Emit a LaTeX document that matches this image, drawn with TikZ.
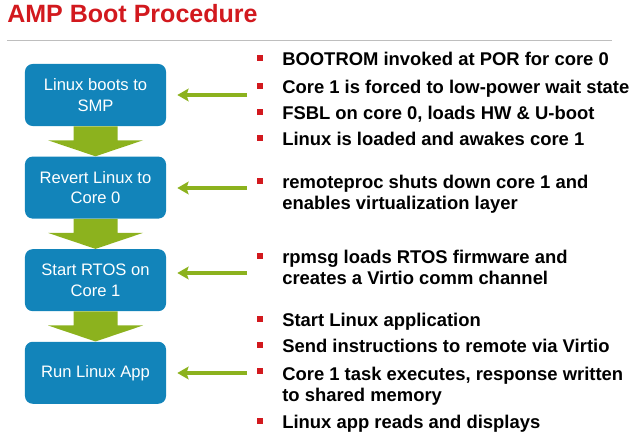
\documentclass[tikz,border=0pt]{standalone}
\usepackage{fontspec}
\setmainfont{Liberation Sans}
\usetikzlibrary{arrows.meta,positioning,calc}
\definecolor{TitleRed}{RGB}{210,25,30}
\definecolor{BoxBlue}{RGB}{18,132,186}
\definecolor{FlowGreen}{RGB}{140,178,30}
\definecolor{RuleGray}{RGB}{190,190,190}
\tikzset{
  stage/.style={draw=none,rounded corners=5.5pt,fill=BoxBlue,text=white,minimum width=3.525cm,minimum height=1.55cm,align=center,font=\fontsize{11.8}{14.9}\selectfont},
  flow/.style={fill=FlowGreen},
  pointer/.style={-{Stealth[length=8pt,width=9pt,inset=1.5pt]},draw=FlowGreen,line width=2.8pt},
  item/.style={anchor=base west,inner sep=0pt,align=left,font=\fontsize{13.1}{15}\selectfont\bfseries},
  sq/.style={fill=TitleRed,inner sep=0pt,minimum width=4.2pt,minimum height=4.2pt}
}
\begin{document}
\begin{tikzpicture}[x=0.025cm,y=-0.025cm,node distance=0.75cm]
\useasboundingbox (0,0) rectangle (640,434);
% title and rule
\node[anchor=base west,inner sep=0pt,text=TitleRed,font=\fontsize{17.8}{20}\selectfont\bfseries] (title) at (7,22) {AMP Boot Procedure};
\coordinate (r1) at (7,40);
\coordinate (r2) at (612,40);
\draw[RuleGray,line width=0.7pt] (r1) -- (r2);
% stages
\node[stage] (b1) at (95.5,95) {Linux boots to\\SMP};
\node[stage,below=of b1] (b2) {Revert Linux to\\Core 0};
\node[stage,below=of b2] (b3) {Start RTOS on\\Core 1};
\node[stage,below=of b3] (b4) {Run Linux App};
% block arrows
\fill[flow] ($(b1.south)+(-22,0)$) -- ($(b2.north)+(-22,-16)$) -- ($(b2.north)+(-47.5,-16)$) -- (b2.north) -- ($(b2.north)+(47.5,-16)$) -- ($(b2.north)+(22,-16)$) -- ($(b1.south)+(22,0)$) -- cycle;
\fill[flow] ($(b2.south)+(-22,0)$) -- ($(b3.north)+(-22,-16)$) -- ($(b3.north)+(-47.5,-16)$) -- (b3.north) -- ($(b3.north)+(47.5,-16)$) -- ($(b3.north)+(22,-16)$) -- ($(b2.south)+(22,0)$) -- cycle;
\fill[flow] ($(b3.south)+(-22,0)$) -- ($(b4.north)+(-22,-16)$) -- ($(b4.north)+(-47.5,-16)$) -- (b4.north) -- ($(b4.north)+(47.5,-16)$) -- ($(b4.north)+(22,-16)$) -- ($(b3.south)+(22,0)$) -- cycle;
% pointers
\coordinate (p1) at (247,95);
\coordinate (p2) at (247,188);
\coordinate (p3) at (247,273);
\coordinate (p4) at (247,373);
\draw[pointer] (p1) -- ($(p1 -| b1.east)+(11,0)$);
\draw[pointer] (p2) -- ($(p2 -| b2.east)+(11,0)$);
\draw[pointer] (p3) -- ($(p3 -| b3.east)+(11,0)$);
\draw[pointer] (p4) -- ($(p4 -| b4.east)+(11,0)$);
% bullets
\foreach \y in {58,86,112,138,181,256,319,345,371,421}
  \node[sq] (sq\y) at (260.3,\y) {};
% items
\node[item] (i1) at (282,65.5) {BOOTROM invoked at POR for core 0};
\node[item] (i2) at (282,93.5) {Core 1 is forced to low-power wait state};
\node[item] (i3) at (282,119.5) {FSBL on core 0, loads HW \& U-boot};
\node[item] (i4) at (282,145.5) {Linux is loaded and awakes core 1};
\node[item] (i5) at (282,209.5) {remoteproc shuts down core 1 and\\enables virtualization layer};
\node[item] (i6) at (282,284.5) {rpmsg loads RTOS firmware and\\creates a Virtio comm channel};
\node[item] (i7) at (282,326.5) {Start Linux application};
\node[item] (i8) at (282,352.5) {Send instructions to remote via Virtio};
\node[item] (i9) at (282,401.5) {Core 1 task executes, response written\\to shared memory};
\node[item] (i10) at (282,428.5) {Linux app reads and displays};
\end{tikzpicture}
\end{document}
